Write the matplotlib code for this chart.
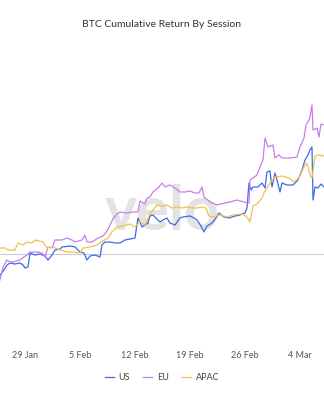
import matplotlib
matplotlib.use("Agg")
import matplotlib.pyplot as plt
import matplotlib.dates as mdates
import pandas as pd

plt.rcParams["font.family"] = ["Lato", "DejaVu Sans"]

start = pd.Timestamp("2024-01-26")

# days since 26 Jan 2024, cumulative return (%)
us_days = [-0.17, 0.34, 0.72, 1.10, 1.74, 2.38, 2.76, 3.01, 3.39, 3.65, 4.28, 4.92, 5.56, 5.94,
           6.45, 6.83, 7.47, 7.72, 8.74, 9.38, 10.01, 10.52, 10.90, 11.28, 11.92, 12.56, 12.81,
           13.19, 13.83, 14.47, 15.10, 15.74, 16.38, 17.01, 17.39, 17.90, 18.28, 18.67, 18.92,
           19.30, 19.81, 20.19, 20.58, 21.08, 21.47, 22.10, 22.74, 23.12, 24.01, 24.52, 24.90,
           25.41, 25.79, 26.18, 26.81, 27.32, 27.70, 28.34, 28.97, 29.74, 30.37, 31.01, 31.27,
           31.52, 31.78, 32.03, 32.67, 33.18, 33.56, 33.81, 34.19, 34.45, 34.83, 35.08, 35.47,
           35.72, 36.36, 37.12, 37.76, 38.27, 38.65, 39.03, 39.28, 39.54, 39.67, 39.92, 40.30,
           40.69, 41.07]
us_ret = [-4.2, -3.2, -2.2, -1.8, -2.0, -1.8, -2.2, -2.8, -2.6, 0.2, -0.2, 0.0, -0.4, -1.2,
          -0.2, 0.8, 1.0, 1.4, 1.6, 1.4, 0.4, 0.2, -1.2, -0.4, -0.2, -0.6, 1.8,
          2.4, 2.4, 2.2, 2.2, 2.8, 3.0, 3.2, 7.2, 5.4, 5.8, 6.2, 7.6,
          7.8, 7.0, 6.4, 6.8, 7.2, 6.2, 5.8, 7.2, 7.4, 7.6, 7.2, 6.8,
          5.6, 4.4, 5.6, 6.2, 7.2, 8.2, 7.4, 7.2, 7.6, 7.8, 8.2, 9.2,
          14.2, 12.8, 13.4, 13.4, 14.2, 13.2, 16.4, 16.6, 13.4, 16.2, 14.8, 12.4,
          14.2, 13.8, 13.8, 14.8, 16.8, 18.8, 19.8, 20.8, 21.4, 10.8, 13.4, 13.2,
          14.0, 13.4]

eu_days = [-0.17, 0.21, 0.72, 1.10, 1.48, 2.38, 2.88, 3.27, 3.65, 4.54, 5.18, 5.56, 5.94,
           6.45, 6.83, 7.72, 8.36, 8.99, 9.38, 10.27, 10.65, 10.90, 11.54, 12.30, 12.94,
           13.45, 13.83, 14.21, 14.72, 15.10, 15.99, 16.76, 17.39, 17.65, 18.28, 18.54, 18.92,
           19.30, 19.94, 20.45, 20.83, 21.47, 22.10, 22.74, 23.37, 24.01, 24.65, 25.16, 25.54,
           25.79, 26.56, 27.45, 28.47, 29.10, 29.99, 30.88, 31.52, 31.65, 32.03, 32.54, 32.92,
           33.30, 33.56, 33.94, 34.57, 34.83, 35.34, 35.72, 36.74, 37.63, 38.01, 38.52, 38.78,
           39.16, 39.28, 39.54, 39.67, 40.18, 40.43, 40.69, 41.07]
eu_ret = [-5.2, -2.6, -1.2, -1.6, -1.6, -1.2, -0.6, -0.2, 0.4, 0.4, 0.2, -0.6, 1.4,
          1.2, 2.8, 2.8, 3.2, 2.8, 2.4, 2.8, 3.8, 2.4, 2.4, 3.2, 3.6,
          4.6, 5.8, 7.0, 8.0, 8.4, 8.2, 8.4, 8.4, 10.6, 10.0, 11.2, 11.4,
          12.4, 13.2, 14.2, 13.4, 13.8, 13.2, 12.4, 12.4, 12.6, 12.2, 12.2, 13.4,
          11.4, 10.4, 9.8, 10.2, 10.4, 10.8, 10.4, 10.2, 14.8, 15.2, 15.8, 17.4,
          18.8, 23.2, 21.4, 21.8, 19.2, 19.8, 19.2, 19.2, 19.4, 21.4, 23.2, 25.8,
          26.8, 27.4, 29.8, 24.8, 25.2, 23.4, 26.0, 25.8]

apac_days = [-0.17, 0.47, 0.85, 1.74, 2.12, 2.76, 3.27, 3.90, 4.28, 5.30, 5.81, 6.58, 7.47,
             8.36, 9.12, 10.01, 10.39, 11.28, 12.18, 12.94, 13.58, 14.08, 14.72, 15.48, 16.38,
             17.01, 17.65, 18.28, 18.92, 19.30, 19.81, 20.45, 21.08, 21.72, 22.36, 22.99, 23.63,
             24.27, 24.90, 25.54, 26.05, 26.43, 26.94, 27.83, 28.72, 29.48, 30.63, 31.27, 31.65,
             32.03, 32.54, 33.18, 33.43, 33.81, 34.19, 34.83, 35.72, 36.61, 37.25, 37.88, 38.52,
             38.90, 39.28, 39.54, 39.92, 40.43, 41.07]
apac_ret = [1.2, 1.2, 0.8, 0.8, 2.2, 1.8, 2.4, 2.2, 2.8, 2.4, 1.2, 1.4, 0.8,
            0.4, 0.4, 0.2, 1.2, 1.4, 1.8, 2.6, 3.2, 4.4, 5.4, 5.6, 6.0,
            5.4, 6.4, 5.8, 8.0, 8.8, 9.8, 9.6, 9.8, 9.2, 9.4, 9.2, 9.4,
            9.2, 9.2, 9.4, 9.2, 7.6, 7.4, 7.8, 7.4, 7.8, 8.0, 7.4, 6.4,
            9.6, 10.0, 11.2, 12.2, 13.2, 14.2, 15.4, 15.6, 15.2, 14.4, 15.2, 17.4,
            18.2, 15.8, 15.2, 19.6, 19.8, 19.6]

series = [
    ("US", us_days, us_ret, "#3d6ae6"),
    ("EU", eu_days, eu_ret, "#c77ee8"),
    ("APAC", apac_days, apac_ret, "#f3c04b"),
]

fig = plt.figure(figsize=(3.24, 4.0), dpi=100)
ax = fig.add_axes([0, 0.15, 1, 0.7])

ax.text(0.5, 0.393, "velo", transform=ax.transAxes, ha="center", va="baseline",
        fontsize=44, fontweight="bold", color="#e3e3e3", zorder=0)

ax.axhline(0, color="#cccccc", lw=0.8, zorder=1)

for name, days, ret, col in series:
    dates = [start + pd.Timedelta(days=d) for d in days]
    ax.plot(dates, ret, color=col, lw=0.9, label=name, zorder=2)

ax.set_xlim(start + pd.Timedelta(days=-0.17), start + pd.Timedelta(days=41.07))
ax.set_ylim(-17.2, 38.8)

ax.xaxis.set_major_locator(mdates.WeekdayLocator(byweekday=mdates.MO))
ax.xaxis.set_major_formatter(mdates.DateFormatter("%-d %b"))
ax.set_yticks([])
ax.tick_params(axis="x", length=0, pad=8, labelsize=6.5, labelcolor="#555555")
for s in ax.spines.values():
    s.set_visible(False)

fig.suptitle("BTC Cumulative Return By Session", y=0.95, fontsize=7.5, color="#333333")
fig.legend(loc="center", bbox_to_anchor=(0.5, 0.055), ncol=3, frameon=False,
           fontsize=6.5, handlelength=1.0, handletextpad=0.5, columnspacing=1.5,
           labelcolor="#444444")

fig.savefig("out.png", dpi=100)
